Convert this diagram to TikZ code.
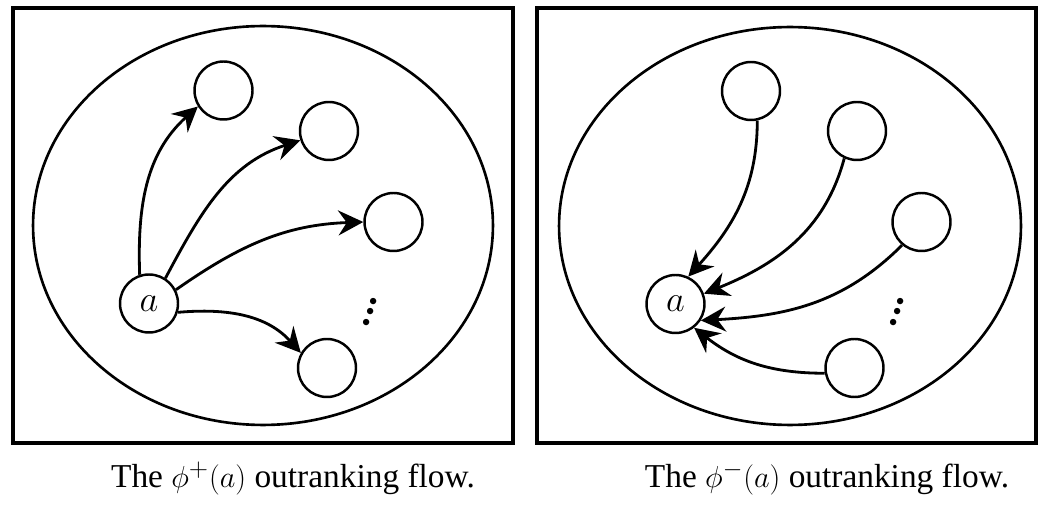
\documentclass[tikz,border=0pt]{standalone}
\usepackage{fontspec}
\setmainfont{Liberation Serif}
\usetikzlibrary{arrows.meta}
\begin{document}
\begin{tikzpicture}[x=0.02cm,y=-0.02cm,
  panel/.style={line width=1.8pt},
  world/.style={line width=1.5pt},
  alt/.style={draw,circle,line width=1.4pt,minimum size=1.16cm,inner sep=0pt,font=\fontsize{22}{24}\selectfont},
  flow/.style={line width=1.6pt,-{Stealth[length=0.5cm,width=0.5cm,inset=0.17cm]}},
  more/.style={font=\fontsize{19}{22}\selectfont,rotate=-20,scale=1.6,transform shape,inner sep=0pt},
  captext/.style={font=\fontsize{19}{22}\selectfont}]
\useasboundingbox (0,0) rectangle (1038,506);
% left panel
\draw[panel] (13,8) rectangle (513,443);
\draw[world] (263,225.5) ellipse [x radius=4.6cm, y radius=3.99cm];
\node[alt] (a) at (149,303.5) {$a$};
\node[alt] (n1) at (223.5,90.5) {};
\node[alt] (n2) at (329,131) {};
\node[alt] (n3) at (393.5,222) {};
\node[alt] (n4) at (327,368) {};
\node[more] (ld) at (373,304) {$\vdots$};
\draw[flow] (a.108) to[out=92,in=222] (n1.212);
\draw[flow] (a.57) to[out=62,in=198] (n2.198);
\draw[flow] (a.27) to[out=35,in=182] (n3.180);
\draw[flow] (a.-17) to[out=5,in=132] (n4.150);
% right panel
\draw[panel] (537,8) rectangle (1036,443);
\draw[world] (790,226) ellipse [x radius=4.62cm, y radius=3.98cm];
\node[alt] (b) at (675.5,304) {$a$};
\node[alt] (m1) at (751,91) {};
\node[alt] (m2) at (857,131) {};
\node[alt] (m3) at (921.5,222) {};
\node[alt] (m4) at (854.5,368) {};
\node[more] (rd) at (900,304) {$\vdots$};
\draw[flow] (m1.-78) to[out=-90,in=48] (b.65);
\draw[flow] (m2.-115) to[out=-105,in=22] (b.20);
\draw[flow] (m3.-130) to[out=-135,in=3] (b.-33);
\draw[flow] (m4.190) to[out=180,in=-38] (b.-52);
% captions
\node[captext] (c1) at (293,478) {The $\phi^{+}(a)$ outranking flow.};
\node[captext] (c2) at (827,478) {The $\phi^{-}(a)$ outranking flow.};
\end{tikzpicture}
\end{document}
